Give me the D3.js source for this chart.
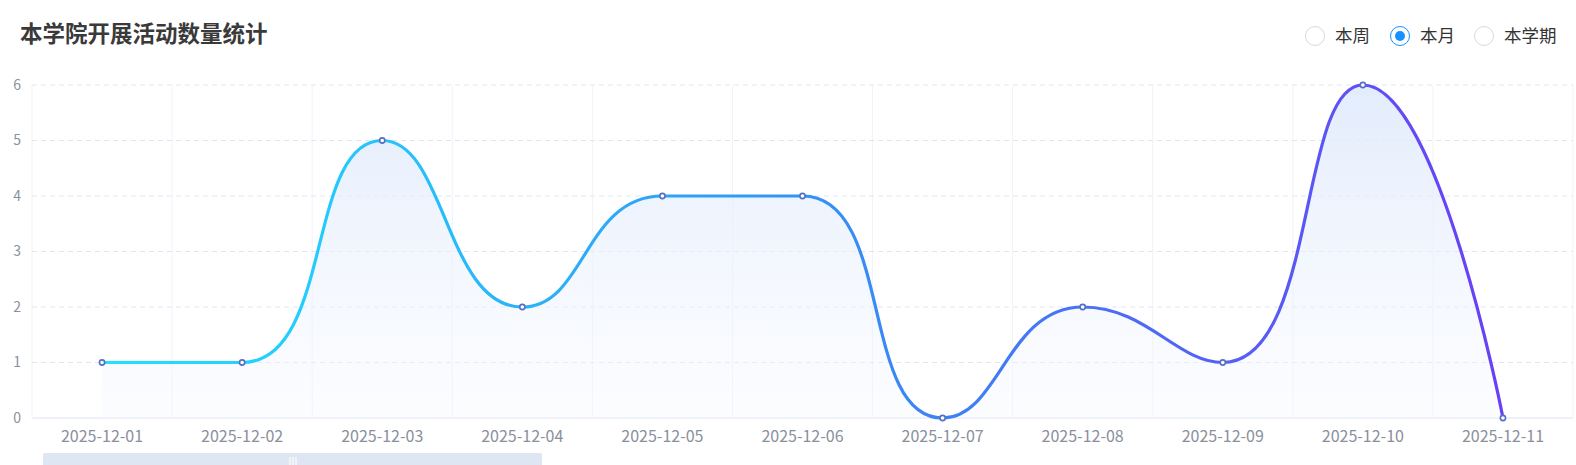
<!DOCTYPE html>
<html lang="zh">
<head>
    <meta charset="UTF-8">
    <script src="https://cdn.jsdelivr.net/npm/d3@7/dist/d3.min.js"></script>
    <title>本学院开展活动数量统计</title>
    <style>
        body { margin: 0; background: #fff; }
        svg { display: block; font-family: "Noto Sans CJK SC", "Noto Sans", sans-serif; }
    </style>
</head>
<body>
    <svg width="1576" height="465"></svg>

    <script>
        // 数据
        const dates = ['2025-12-01', '2025-12-02', '2025-12-03', '2025-12-04', '2025-12-05', '2025-12-06',
                       '2025-12-07', '2025-12-08', '2025-12-09', '2025-12-10', '2025-12-11']
        const counts = [1, 1, 5, 2, 4, 4, 0, 2, 1, 6, 0]
        const yTicks = [0, 1, 2, 3, 4, 5, 6]
        const periods = ['本周', '本月', '本学期']
        const activePeriod = '本月'

        const svg = d3.select('svg')

        // 绘图区
        const grid = { left: 32, right: 1573, top: 85, bottom: 418 }

        const x = d3.scaleBand()
            .domain(dates)
            .range([grid.left, grid.right])
        const y = d3.scaleLinear()
            .domain([0, 6])
            .range([grid.bottom, grid.top])

        const cx = d => x(d) + x.bandwidth() / 2

        // 平滑曲线（控制点按前后线段长度分配，并限制不越过相邻点）
        function smoothPath(pts, smooth) {
            const p = d3.path()
            let cp0x, cp0y
            pts.forEach(([px, py], i) => {
                if (i === 0) {
                    p.moveTo(px, py)
                    cp0x = px; cp0y = py
                    return
                }
                const [ax, ay] = pts[i - 1]
                let cp1x = px, cp1y = py, nx0 = px, ny0 = py
                if (i < pts.length - 1) {
                    const [bx, by] = pts[i + 1]
                    let vx = bx - ax, vy = by - ay
                    const lenPrev = Math.hypot(px - ax, py - ay)
                    const lenNext = Math.hypot(bx - px, by - py)
                    const r = lenNext / (lenNext + lenPrev)
                    nx0 = px + vx * smooth * r
                    ny0 = py + vy * smooth * r
                    nx0 = Math.max(Math.min(nx0, Math.max(bx, px)), Math.min(bx, px))
                    ny0 = Math.max(Math.min(ny0, Math.max(by, py)), Math.min(by, py))
                    vx = nx0 - px; vy = ny0 - py
                    cp1x = px - vx * lenPrev / lenNext
                    cp1y = py - vy * lenPrev / lenNext
                    cp1x = Math.max(Math.min(cp1x, Math.max(ax, px)), Math.min(ax, px))
                    cp1y = Math.max(Math.min(cp1y, Math.max(ay, py)), Math.min(ay, py))
                    vx = px - cp1x; vy = py - cp1y
                    nx0 = px + vx * lenNext / lenPrev
                    ny0 = py + vy * lenNext / lenPrev
                }
                p.bezierCurveTo(cp0x, cp0y, cp1x, cp1y, px, py)
                cp0x = nx0; cp0y = ny0
            })
            return p
        }

        const points = counts.map((d, i) => [cx(dates[i]), y(d)])
        const linePath = smoothPath(points, 0.5).toString()
        const areaPath = linePath +
            `L${points[points.length - 1][0]},${y(0)}L${points[0][0]},${y(0)}Z`

        // 渐变
        const defs = svg.append('defs')
        const lineGrad = defs.append('linearGradient')
            .attr('id', 'lineGrad')
            .attr('gradientUnits', 'userSpaceOnUse')
            .attr('x1', cx(dates[0])).attr('x2', cx(dates[dates.length - 1]))
            .attr('y1', 0).attr('y2', 0)
        lineGrad.append('stop').attr('offset', '0%').attr('stop-color', '#1ee3ff')
        lineGrad.append('stop').attr('offset', '50%').attr('stop-color', '#3393f5')
        lineGrad.append('stop').attr('offset', '100%').attr('stop-color', '#6a3ff5')

        const areaGrad = defs.append('linearGradient')
            .attr('id', 'areaGrad')
            .attr('gradientUnits', 'userSpaceOnUse')
            .attr('x1', 0).attr('x2', 0)
            .attr('y1', grid.top).attr('y2', grid.bottom)
        areaGrad.append('stop').attr('offset', '0%').attr('stop-color', '#dfeafc').attr('stop-opacity', 0.9)
        areaGrad.append('stop').attr('offset', '100%').attr('stop-color', '#f4f7fe').attr('stop-opacity', 0.3)

        // 竖向分隔线
        svg.append('g')
            .selectAll('line')
            .data(dates.concat(['end']))
            .enter()
            .append('line')
            .attr('x1', (d, i) => grid.left + i * x.bandwidth())
            .attr('x2', (d, i) => grid.left + i * x.bandwidth())
            .attr('y1', grid.top)
            .attr('y2', grid.bottom)
            .attr('stroke', '#f1f3f8')
            .attr('stroke-width', 1)

        // 横向虚线
        svg.append('g')
            .selectAll('line')
            .data(yTicks)
            .enter()
            .append('line')
            .attr('x1', grid.left)
            .attr('x2', grid.right)
            .attr('y1', d => y(d))
            .attr('y2', d => y(d))
            .attr('stroke', d => d === 0 ? '#eef1f7' : '#e0e6f1')
            .attr('stroke-width', d => d === 0 ? 2 : 1)
            .attr('stroke-dasharray', d => d === 0 ? null : '5,4')

        // y 轴文字
        svg.append('g')
            .selectAll('text')
            .data(yTicks)
            .enter()
            .append('text')
            .attr('x', 21)
            .attr('y', d => y(d))
            .attr('dy', '0.35em')
            .attr('text-anchor', 'end')
            .attr('font-size', 14)
            .attr('fill', '#8a909c')
            .text(d => d)

        // x 轴文字
        svg.append('g')
            .selectAll('text')
            .data(dates)
            .enter()
            .append('text')
            .attr('x', d => cx(d))
            .attr('y', 442)
            .attr('text-anchor', 'middle')
            .attr('font-size', 16)
            .attr('fill', '#8a909c')
            .text(d => d)

        // 面积 + 折线
        svg.append('path')
            .attr('d', areaPath)
            .attr('fill', 'url(#areaGrad)')

        svg.append('path')
            .attr('d', linePath)
            .attr('fill', 'none')
            .attr('stroke', 'url(#lineGrad)')
            .attr('stroke-width', 3.2)

        // 数据点
        svg.append('g')
            .selectAll('circle')
            .data(counts)
            .enter()
            .append('circle')
            .attr('cx', (d, i) => cx(dates[i]))
            .attr('cy', d => y(d))
            .attr('r', 2.6)
            .attr('fill', '#fff')
            .attr('stroke', '#5470c6')
            .attr('stroke-width', 1.6)

        // 标题
        svg.append('text')
            .attr('x', 20)
            .attr('y', 42)
            .attr('font-size', 22.5)
            .attr('font-weight', 'bold')
            .attr('fill', '#3a3a3a')
            .text('本学院开展活动数量统计')

        // 单选按钮
        const legendX = [1315, 1400, 1484]
        const radio = svg.append('g')
            .selectAll('g')
            .data(periods)
            .enter()
            .append('g')
            .attr('transform', (d, i) => `translate(${legendX[i]}, 36)`)
        radio.append('circle')
            .attr('r', 9.5)
            .attr('fill', '#fff')
            .attr('stroke', d => d === activePeriod ? '#1890ff' : '#d9d9d9')
            .attr('stroke-width', 1)
        radio.filter(d => d === activePeriod)
            .append('circle')
            .attr('r', 5)
            .attr('fill', '#1890ff')
        radio.append('text')
            .attr('x', 20)
            .attr('dy', '0.36em')
            .attr('font-size', 17.5)
            .attr('fill', '#333')
            .text(d => d)

        // 底部缩放条
        svg.append('rect')
            .attr('x', 43)
            .attr('y', 453)
            .attr('width', 499)
            .attr('height', 16)
            .attr('rx', 2)
            .attr('fill', '#dde6f2')
        svg.append('g')
            .selectAll('line')
            .data([-3, 0, 3])
            .enter()
            .append('line')
            .attr('x1', d => 293 + d)
            .attr('x2', d => 293 + d)
            .attr('y1', 457)
            .attr('y2', 465)
            .attr('stroke', '#fff')
            .attr('stroke-width', 1.2)
    </script>
</body>
</html>
